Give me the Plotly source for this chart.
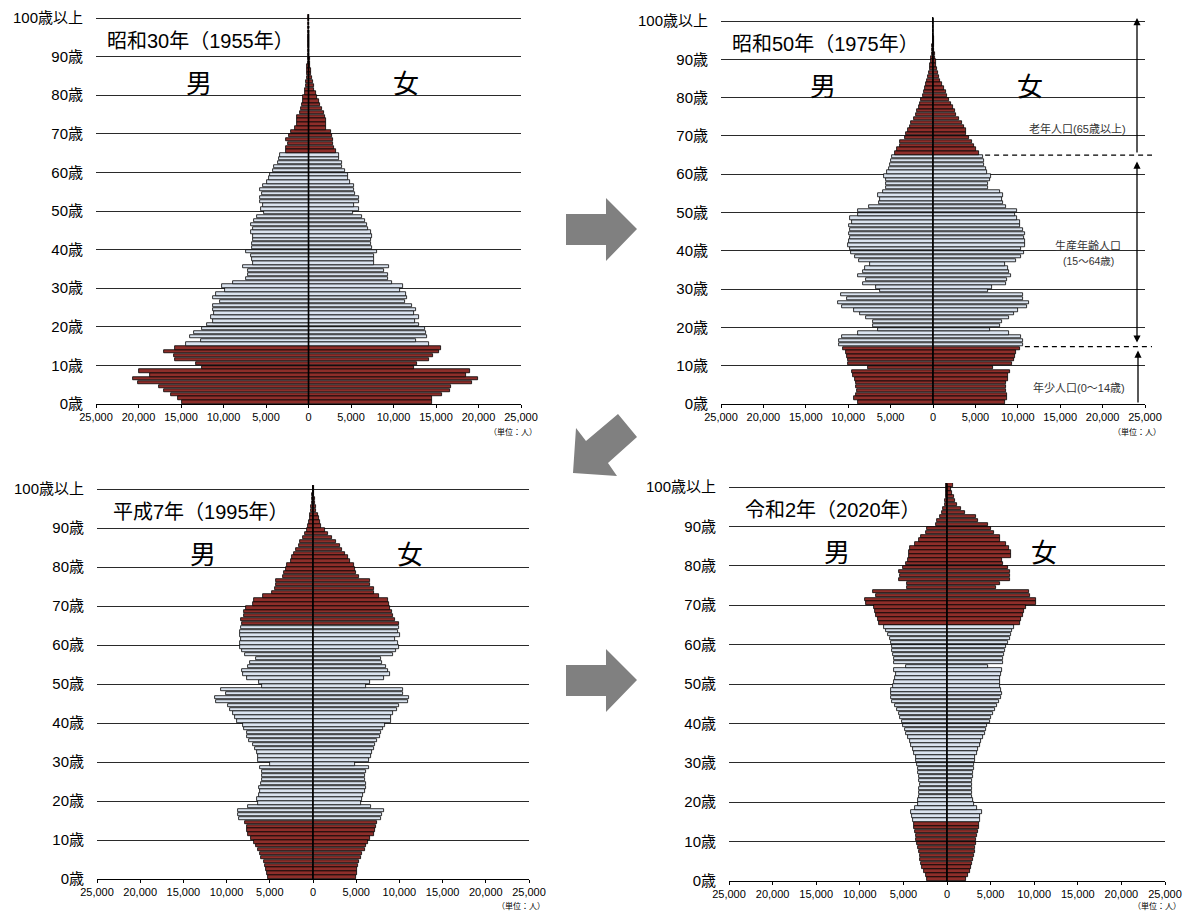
import numpy as np
import plotly.graph_objects as go

# ---------------- data (thousands of people, ages 0..100+) ----------------
ages = list(range(101))
age_tick_vals = list(range(0, 101, 10))
age_tick_text = ["0歳", "10歳", "20歳", "30歳", "40歳", "50歳", "60歳", "70歳", "80歳", "90歳", "100歳以上"]
x_tick_vals = [-25000, -20000, -15000, -10000, -5000, 0, 5000, 10000, 15000, 20000, 25000]
x_tick_text = ["25,000", "20,000", "15,000", "10,000", "5,000", "0", "5,000", "10,000", "15,000", "20,000", "25,000"]
titles = ["昭和30年（1955年）", "昭和50年（1975年）", "平成7年（1995年）", "令和2年（2020年）"]

male_1955 = [14.9, 15.3, 16.2, 17.0, 17.6, 20.1, 20.6, 18.7, 19.9, 12.5,
             13.2, 15.7, 15.8, 17.0, 15.7, 14.4, 12.7, 14.0, 13.5, 12.5,
             12.0, 11.2, 11.5, 11.1, 11.2, 11.2, 10.4, 11.2, 10.9, 9.8,
             10.2, 8.9, 7.4, 7.1, 7.1, 7.7, 6.5, 6.7, 6.8, 7.4,
             6.7, 6.7, 6.5, 6.5, 6.8, 6.5, 6.8, 6.4, 6.1, 5.2,
             5.6, 5.4, 5.7, 5.75, 5.5, 5.7, 5.4, 4.9, 4.6, 4.5,
             4.2, 4.1, 3.6, 3.5, 3.3, 2.7, 2.6, 2.4, 2.6, 2.3,
             2.1, 1.6, 1.4, 1.3, 1.3, 1.0, 0.9, 0.8, 0.65, 0.6,
             0.47, 0.4, 0.35, 0.27, 0.23, 0.2, 0.15, 0.12, 0.09, 0.07,
             0.05, 0.04, 0.03, 0.02, 0.015, 0.01, 0.01, 0.01, 0.005, 0.005, 0.005]
female_1955 = [14.55, 14.55, 15.65, 16.6, 16.8, 19.2, 19.9, 18.5, 19.0, 12.4,
               12.8, 14.2, 14.6, 15.4, 15.6, 14.2, 12.7, 13.9, 13.8, 13.7,
               13.0, 12.5, 13.0, 12.4, 12.6, 12.2, 11.4, 11.6, 11.5, 10.8,
               11.1, 9.8, 9.3, 9.4, 8.9, 9.5, 7.7, 7.7, 7.7, 8.1,
               7.5, 7.4, 7.4, 7.5, 7.3, 7.0, 6.9, 6.6, 6.3, 5.2,
               5.9, 5.4, 5.9, 5.95, 5.5, 5.4, 5.3, 4.9, 4.7, 4.6,
               4.3, 3.9, 3.9, 3.6, 3.6, 3.2, 3.0, 2.9, 2.9, 2.8,
               2.6, 2.1, 2.0, 2.0, 1.9, 1.8, 1.6, 1.3, 1.2, 1.05,
               0.9, 0.7, 0.6, 0.5, 0.4, 0.3, 0.25, 0.2, 0.15, 0.12,
               0.09, 0.07, 0.05, 0.04, 0.03, 0.02, 0.015, 0.01, 0.01, 0.005, 0.005]

male_1975 = [8.86, 9.33, 9.06, 8.98, 9.06, 9.13, 9.21, 9.45, 9.61, 7.68,
             10.0, 10.0, 10.2, 10.3, 10.6, 11.1, 11.1, 10.7, 8.86, 6.46,
             7.05, 7.13, 7.87, 8.58, 9.37, 10.7, 11.2, 10.2, 10.8, 6.22,
             6.69, 8.27, 7.95, 8.82, 8.27, 8.0, 7.48, 8.74, 9.17, 9.69,
             9.76, 10.0, 9.96, 9.84, 9.92, 9.8, 9.92, 9.53, 9.76, 8.82,
             8.86, 7.6, 6.38, 6.22, 6.5, 5.91, 5.51, 5.51, 5.59, 5.83,
             5.43, 5.2, 5.12, 4.92, 4.84, 4.53, 4.25, 3.94, 3.86, 3.35,
             3.15, 2.95, 2.76, 2.56, 2.24, 2.05, 1.85, 1.69, 1.57, 1.38,
             1.18, 1.06, 0.91, 0.79, 0.67, 0.55, 0.47, 0.39, 0.31, 0.24,
             0.18, 0.14, 0.1, 0.07, 0.05, 0.04, 0.03, 0.02, 0.01, 0.01, 0.01]
female_1975 = [8.54, 8.74, 8.74, 8.66, 8.58, 8.66, 8.86, 8.86, 9.13, 7.09,
               9.33, 9.53, 9.65, 9.76, 10.2, 10.6, 10.6, 10.4, 8.94, 6.77,
               7.87, 8.15, 8.98, 9.57, 10.0, 11.1, 11.3, 10.6, 10.6, 6.5,
               7.0, 8.58, 8.74, 9.25, 8.98, 8.86, 8.46, 9.84, 10.35, 10.7,
               10.4, 10.8, 10.9, 10.7, 10.9, 10.6, 10.3, 10.3, 9.92, 9.65,
               9.92, 8.66, 8.27, 8.19, 8.27, 7.87, 6.46, 6.46, 6.69, 6.89,
               6.38, 6.22, 6.06, 5.98, 5.91, 5.43, 5.04, 4.8, 4.65, 4.25,
               3.86, 3.94, 3.66, 3.46, 3.07, 2.76, 2.56, 2.36, 2.17, 1.89,
               1.65, 1.5, 1.26, 1.1, 0.87, 0.71, 0.59, 0.47, 0.39, 0.31,
               0.24, 0.19, 0.15, 0.11, 0.08, 0.06, 0.04, 0.03, 0.02, 0.01, 0.01]

male_1995 = [5.22, 5.33, 5.41, 5.53, 5.72, 6.0, 6.18, 6.38, 6.57, 6.88,
             7.15, 7.54, 7.61, 7.61, 7.84, 8.58, 8.65, 8.73, 7.5, 6.38,
             6.45, 6.26, 6.18, 6.26, 6.03, 5.91, 5.91, 5.91, 6.18, 4.95,
             6.34, 6.38, 6.49, 6.72, 6.92, 7.42, 7.61, 7.69, 8.0, 8.08,
             8.77, 9.04, 9.31, 9.62, 9.89, 11.2, 11.4, 10.1, 10.7, 5.95,
             6.3, 7.65, 8.11, 8.19, 7.53, 7.34, 6.57, 7.84, 8.19, 8.5,
             8.5, 8.31, 8.5, 8.5, 8.38, 8.27, 8.31, 7.99, 8.04, 7.73,
             6.95, 6.88, 5.8, 4.72, 4.44, 4.33, 4.25, 3.48, 3.36, 3.17,
             3.01, 2.51, 2.4, 2.24, 1.93, 1.62, 1.47, 1.16, 0.93, 0.7,
             0.58, 0.46, 0.39, 0.31, 0.23, 0.19, 0.15, 0.12, 0.08, 0.04, 0.04]
female_1995 = [4.95, 5.1, 5.14, 5.22, 5.33, 5.53, 5.72, 6.03, 6.18, 6.38,
               6.65, 7.03, 7.23, 7.34, 7.46, 7.92, 8.04, 8.23, 6.76, 5.6,
               5.68, 5.8, 5.99, 6.18, 6.11, 6.07, 6.07, 6.18, 6.49, 4.87,
               6.49, 6.68, 6.84, 7.03, 7.23, 7.46, 7.73, 7.92, 8.11, 8.31,
               9.0, 9.08, 9.27, 9.74, 9.97, 11.0, 11.1, 10.4, 10.4, 6.18,
               6.65, 8.19, 8.89, 8.69, 8.42, 7.96, 7.92, 9.27, 9.66, 9.97,
               9.85, 9.47, 10.1, 9.85, 10.0, 10.0, 9.47, 9.27, 9.2, 8.89,
               8.81, 8.69, 7.65, 7.07, 7.03, 6.57, 6.65, 5.33, 5.02, 4.83,
               4.71, 4.25, 4.06, 3.67, 3.4, 3.09, 2.63, 2.16, 1.74, 1.43,
               0.97, 0.77, 0.66, 0.54, 0.39, 0.31, 0.23, 0.19, 0.12, 0.08, 0.08]

male_2020 = [2.26, 2.37, 2.68, 2.83, 2.99, 3.06, 3.14, 3.22, 3.33, 3.41,
             3.52, 3.6, 3.71, 3.79, 3.83, 3.9, 4.06, 4.1, 3.68, 3.3,
             3.29, 3.22, 3.22, 3.18, 3.14, 3.18, 3.22, 3.29, 3.37, 3.45,
             3.52, 3.6, 3.75, 3.9, 4.1, 4.29, 4.44, 4.67, 4.82, 5.05,
             5.17, 5.36, 5.51, 5.74, 6.01, 6.28, 6.39, 6.47, 6.39, 6.2,
             6.13, 6.01, 5.9, 6.13, 4.75, 6.13, 6.13, 6.2, 6.32, 6.36,
             6.43, 6.58, 6.74, 6.97, 7.2, 7.81, 7.92, 8.12, 8.27, 8.42,
             9.26, 9.38, 8.19, 8.5, 4.59, 4.59, 5.51, 5.36, 5.55, 5.05,
             4.75, 4.48, 4.36, 4.36, 4.29, 3.71, 3.22, 2.95, 2.45, 2.3,
             1.3, 1.15, 0.84, 0.61, 0.46, 0.27, 0.19, 0.15, 0.08, 0.08, 0.15]
female_2020 = [2.22, 2.41, 2.6, 2.79, 2.91, 2.99, 3.06, 3.18, 3.25, 3.37,
               3.37, 3.45, 3.52, 3.64, 3.68, 3.75, 3.83, 3.98, 3.45, 3.06,
               2.99, 2.91, 2.91, 2.83, 2.83, 2.91, 2.99, 3.02, 3.06, 3.1,
               3.18, 3.25, 3.45, 3.56, 3.75, 3.94, 4.13, 4.33, 4.52, 4.63,
               4.9, 5.02, 5.28, 5.47, 5.74, 5.97, 6.24, 6.32, 6.24, 6.13,
               6.05, 6.13, 6.17, 6.32, 4.71, 6.39, 6.47, 6.58, 6.7, 6.78,
               6.97, 7.23, 7.35, 7.47, 7.73, 8.42, 8.5, 8.69, 8.88, 9.07,
               10.26, 10.18, 9.49, 9.42, 5.67, 6.05, 7.27, 7.2, 7.27, 7.0,
               6.43, 6.28, 7.39, 7.31, 7.12, 6.81, 6.13, 6.05, 5.36, 5.09,
               4.71, 3.6, 3.33, 2.07, 1.65, 1.15, 0.92, 0.77, 0.61, 0.46, 0.69]

series = [(male_1955, female_1955), (male_1975, female_1975),
          (male_1995, female_1995), (male_2020, female_2020)]

# ---------------- layout geometry (pixels) ----------------
W, H = 1184, 911
panels = [dict(x0=96, x1=521, y0=404, y100=18),
          dict(x0=721, x1=1145, y0=404, y100=21),
          dict(x0=97, x1=529, y0=879, y100=489),
          dict(x0=729, x1=1165, y0=881, y100=487)]
YMAX = 101
RED = "#8E2E2A"
BLUE = "#DAE3EF"
FONT = "Liberation Sans, Arial, Noto Sans CJK JP, sans-serif"
JFONT = "Noto Sans CJK JP, sans-serif"


def px(x):
    return x / W


def py(y):
    return 1 - y / H


def data_px(p, xv, yv):
    cx = (p["x0"] + p["x1"]) / 2
    sx = (p["x1"] - p["x0"]) / 50000
    sy = (p["y0"] - p["y100"]) / 100
    return cx + xv * sx, p["y0"] - yv * sy


colors = [RED if (a < 15 or a >= 65) else BLUE for a in ages]
ymid = np.array(ages) + 0.5

fig = go.Figure()
shapes = []
annotations = []
layout_axes = {}


def label(x, y, text, size, color="black", family=FONT):
    return dict(x=px(x), y=py(y), xref="paper", yref="paper", text=text, showarrow=False,
                xanchor="center", yanchor="middle", font=dict(size=size, color=color, family=family))


for i, ((m, f), p) in enumerate(zip(series, panels)):
    k = "" if i == 0 else str(i + 1)
    for vals, sign in ((m, -1), (f, 1)):
        fig.add_trace(go.Bar(
            y=ymid, x=sign * np.array(vals) * 1000, orientation="h", width=0.86,
            marker=dict(color=colors, line=dict(color="black", width=0.8)),
            xaxis="x" + k, yaxis="y" + k, showlegend=False, hoverinfo="skip"))
    ytop = p["y100"] - (p["y0"] - p["y100"]) / 100 * (YMAX - 100)
    layout_axes["xaxis" + k] = dict(
        domain=[px(p["x0"]), px(p["x1"])], range=[-25000, 25000], anchor="y" + k,
        tickvals=x_tick_vals, ticktext=x_tick_text, showgrid=False, zeroline=False,
        showline=True, linecolor="black", linewidth=1, ticks="outside", ticklen=3,
        tickcolor="black", tickfont=dict(size=11, color="black", family=FONT),
        fixedrange=True, automargin=False)
    layout_axes["yaxis" + k] = dict(
        domain=[py(p["y0"]), py(ytop)], range=[0, YMAX], anchor="x" + k,
        tickvals=age_tick_vals, ticktext=age_tick_text, showgrid=True,
        gridcolor="#2a2a2a", gridwidth=1, zeroline=False, showline=False, ticks="",
        ticklabelstandoff=12, tickfont=dict(size=15, color="black", family=FONT),
        fixedrange=True, automargin=False)

    # centre line
    xr, yr = "x" + k, "y" + k
    if i == 0:
        shapes.append(dict(type="line", xref=xr, yref=yr, x0=0, x1=0, y0=0, y1=96.4,
                           line=dict(color="black", width=1.6), layer="above"))
        shapes.append(dict(type="line", xref=xr, yref=yr, x0=0, x1=0, y0=96.4, y1=98.2,
                           line=dict(color="black", width=1.6, dash="2px,2px"), layer="above"))
    else:
        shapes.append(dict(type="line", xref=xr, yref=yr, x0=0, x1=0, y0=0, y1=100.9,
                           line=dict(color="black", width=1.6), layer="above"))

    # titles and sex labels
    cx = (p["x0"] + p["x1"]) / 2
    annotations.append(label(p["x0"] + 104, p["y100"] + 23, titles[i], 20))
    annotations.append(label(cx - 110, p["y100"] + 63, "男", 26, family=JFONT))
    annotations.append(label(cx + 97, p["y100"] + 63, "女", 26, family=JFONT))
    annotations.append(label(p["x1"] - 8, min(p["y0"] + 27, H - 6), "（単位：人）", 8, family=JFONT))

# ----- panel 2 age-group brackets -----
p2 = panels[1]
f75 = series[1][1]
xr_end = 1152
for age_b in (65, 15):
    edge = max(f75[age_b], f75[age_b - 1]) * 1000
    xs, ys = data_px(p2, edge, age_b)
    shapes.append(dict(type="line", xref="paper", yref="paper", x0=px(xs + 2), x1=px(xr_end),
                       y0=py(ys), y1=py(ys), line=dict(color="black", width=1.3, dash="5px,4px")))
_, y65 = data_px(p2, 0, 65)
_, y15 = data_px(p2, 0, 15)
_, y100 = data_px(p2, 0, 100)
_, y0 = data_px(p2, 0, 0)
ax_x = 1137
arrow_common = dict(xref="paper", yref="paper", axref="pixel", ayref="pixel", text="", showarrow=True,
                    arrowhead=2, arrowsize=1.1, arrowwidth=1.3, arrowcolor="black", standoff=0,
                    startstandoff=0)
annotations.append(dict(x=px(ax_x), y=py(y100 - 3), ax=0, ay=(y65 - 1) - (y100 - 3), **arrow_common))
annotations.append(dict(x=px(ax_x), y=py(y15 - 4), ax=0, ay=(y65 + 5) - (y15 - 4),
                        arrowside="end+start", **arrow_common))
annotations.append(dict(x=px(ax_x + 1), y=py(y15 + 4), ax=0, ay=y0 - (y15 + 4), **arrow_common))
annotations.append(label(1077, 128, "老年人口(65歳以上)", 11, color="#333333"))
annotations.append(label(1088, 246, "生産年齢人口", 11, color="#333333"))
annotations.append(label(1088, 261, "(15～64歳)", 10.5, color="#333333"))
annotations.append(label(1079, 387, "年少人口(0～14歳)", 11, color="#333333"))

# ----- big grey arrows between panels -----
def poly(pts):
    return "M " + " L ".join(f"{px(x):.5f},{py(y):.5f}" for x, y in pts) + " Z"


right_arrow = [(566, 214), (606, 214), (606, 198), (637, 229), (606, 261), (606, 245), (566, 245)]
shapes.append(dict(type="path", xref="paper", yref="paper", path=poly(right_arrow),
                   fillcolor="#808080", line=dict(width=0)))
shapes.append(dict(type="path", xref="paper", yref="paper",
                   path=poly([(x, y + 451) for x, y in right_arrow]),
                   fillcolor="#808080", line=dict(width=0)))
diag_arrow = [(573, 473), (576, 428), (586, 441), (618, 414), (637, 437), (608, 463), (617, 476)]
shapes.append(dict(type="path", xref="paper", yref="paper", path=poly(diag_arrow),
                   fillcolor="#808080", line=dict(width=0)))

fig.update_layout(
    width=W, height=H, margin=dict(l=0, r=0, t=0, b=0),
    paper_bgcolor="white", plot_bgcolor="white", barmode="overlay", bargap=0,
    shapes=shapes, annotations=annotations, font=dict(family=FONT, color="black"),
    **layout_axes)

fig.write_html("out.html", config={"displayModeBar": False},
               post_script="document.body.style.margin='0';document.body.style.overflow='hidden';")
